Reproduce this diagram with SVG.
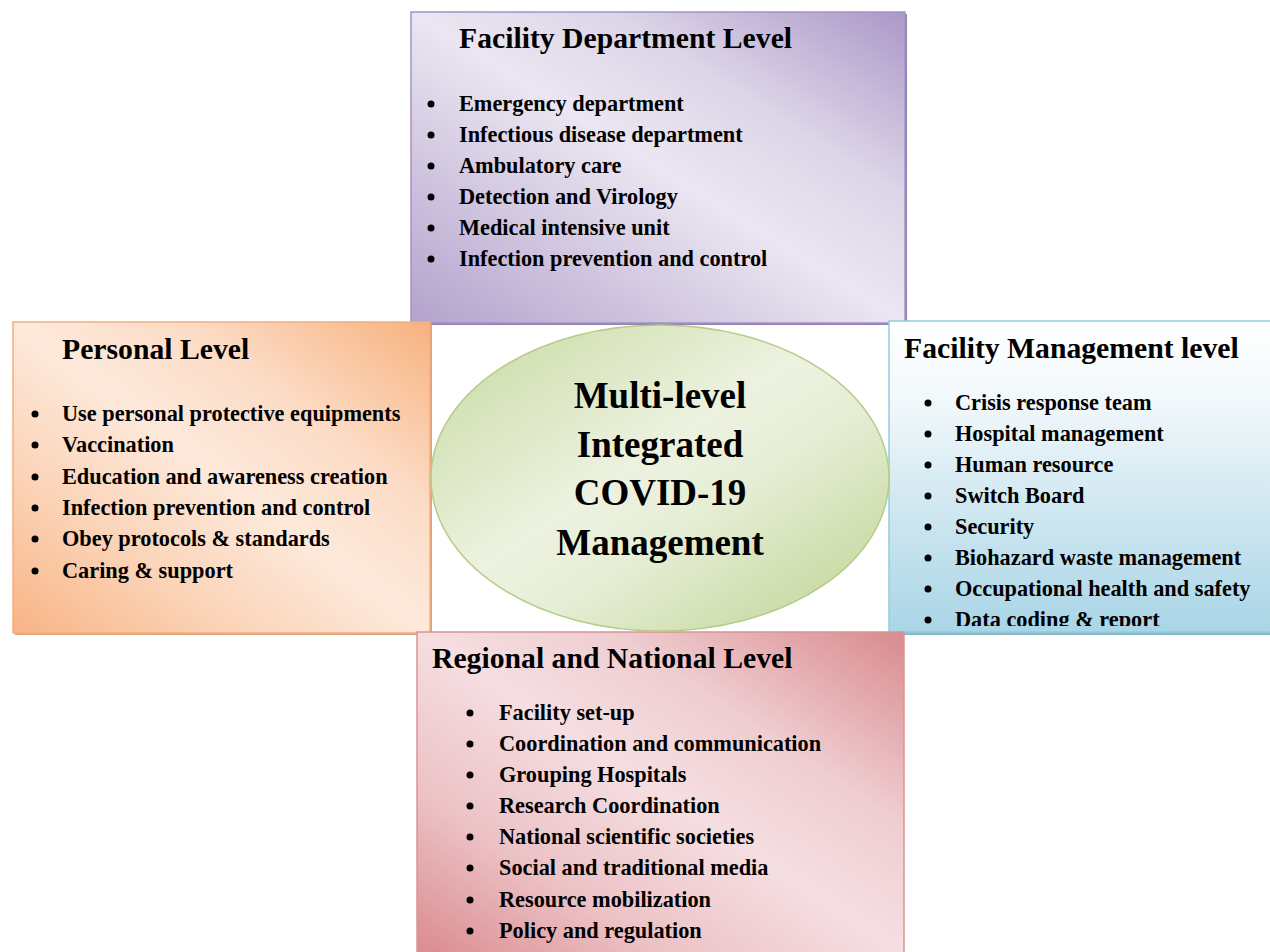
<svg xmlns="http://www.w3.org/2000/svg" width="1270" height="952" viewBox="0 0 1270 952">
<defs>
<linearGradient id="gPurple" x1="0" y1="1" x2="1" y2="0">
<stop offset="0" stop-color="#b3a2cc"/>
<stop offset="0.2" stop-color="#c9bddb"/>
<stop offset="0.5" stop-color="#ebe6f1"/>
<stop offset="0.7" stop-color="#ddd5e8"/>
<stop offset="1" stop-color="#ab98c8"/>
</linearGradient>
<linearGradient id="gOrange" x1="0" y1="1" x2="1" y2="0">
<stop offset="0" stop-color="#f8b485"/>
<stop offset="0.25" stop-color="#fbd2b5"/>
<stop offset="0.5" stop-color="#fde9db"/>
<stop offset="0.7" stop-color="#fcdcc6"/>
<stop offset="1" stop-color="#f7b27f"/>
</linearGradient>
<linearGradient id="gBlue" x1="0" y1="0" x2="0" y2="1">
<stop offset="0" stop-color="#ffffff"/>
<stop offset="0.25" stop-color="#f2f8fb"/>
<stop offset="1" stop-color="#a9d5e6"/>
</linearGradient>
<linearGradient id="gPink" x1="0" y1="1" x2="1" y2="0">
<stop offset="0" stop-color="#da8b8f"/>
<stop offset="0.25" stop-color="#ecc1c5"/>
<stop offset="0.5" stop-color="#f5dee1"/>
<stop offset="0.7" stop-color="#efcdd1"/>
<stop offset="1" stop-color="#d98a8d"/>
</linearGradient>
<linearGradient id="gGreen" x1="0" y1="0" x2="1" y2="1">
<stop offset="0" stop-color="#c6d9a0"/>
<stop offset="0.45" stop-color="#edf2e0"/>
<stop offset="0.6" stop-color="#e6eed6"/>
<stop offset="1" stop-color="#bdd28f"/>
</linearGradient>
<clipPath id="clipRight"><rect x="889" y="321" width="381" height="305"/></clipPath>
<style>
text{font-family:"Liberation Serif","Times New Roman",serif;font-weight:bold;fill:#000}
.title{font-size:29.7px}
.item{font-size:22.3px}
.center{font-size:37px;text-anchor:middle}
.bul{fill:#000}
</style>
</defs>

<g id="connectors"></g>

<g id="node-facility-department">
<rect x="413" y="14" width="494" height="311" fill="#8f80ae"/>
<rect x="411" y="12" width="494" height="311" fill="url(#gPurple)" stroke="#a294c3" stroke-width="1.5"/>
<text class="title" x="459" y="48">Facility Department Level</text>
<g class="bullets">
<circle class="bul" cx="431" cy="104" r="3.5"/>
<circle class="bul" cx="431" cy="135" r="3.5"/>
<circle class="bul" cx="431" cy="166" r="3.5"/>
<circle class="bul" cx="431" cy="197" r="3.5"/>
<circle class="bul" cx="431" cy="228" r="3.5"/>
<circle class="bul" cx="431" cy="259" r="3.5"/>
</g>
<text class="item" x="459" y="111">Emergency department</text>
<text class="item" x="459" y="142">Infectious disease department</text>
<text class="item" x="459" y="173">Ambulatory care</text>
<text class="item" x="459" y="204">Detection and Virology</text>
<text class="item" x="459" y="235">Medical intensive unit</text>
<text class="item" x="459" y="266">Infection prevention and control</text>
</g>

<g id="node-personal">
<rect x="15" y="324" width="417" height="311" fill="#dca27c"/>
<rect x="13" y="322" width="417" height="311" fill="url(#gOrange)" stroke="#f2ae80" stroke-width="1.5"/>
<text class="title" x="62" y="359">Personal Level</text>
<circle class="bul" cx="35" cy="414" r="3.5"/>
<circle class="bul" cx="35" cy="445" r="3.5"/>
<circle class="bul" cx="35" cy="477" r="3.5"/>
<circle class="bul" cx="35" cy="508" r="3.5"/>
<circle class="bul" cx="35" cy="539" r="3.5"/>
<circle class="bul" cx="35" cy="571" r="3.5"/>
<text class="item" x="62" y="421">Use personal protective equipments</text>
<text class="item" x="62" y="452">Vaccination</text>
<text class="item" x="62" y="484">Education and awareness creation</text>
<text class="item" x="62" y="515">Infection prevention and control</text>
<text class="item" x="62" y="546">Obey protocols &amp; standards</text>
<text class="item" x="62" y="578">Caring &amp; support</text>
</g>

<g id="node-facility-management">
<rect x="891" y="323" width="381" height="312" fill="#8cb8c8"/>
<rect x="889" y="321" width="383" height="311" fill="url(#gBlue)" stroke="#93cddd" stroke-width="1.5"/>
<g clip-path="url(#clipRight)">
<text class="title" x="904" y="358">Facility Management level</text>
<circle class="bul" cx="928" cy="403" r="3.5"/>
<circle class="bul" cx="928" cy="434" r="3.5"/>
<circle class="bul" cx="928" cy="465" r="3.5"/>
<circle class="bul" cx="928" cy="496" r="3.5"/>
<circle class="bul" cx="928" cy="527" r="3.5"/>
<circle class="bul" cx="928" cy="558" r="3.5"/>
<circle class="bul" cx="928" cy="589" r="3.5"/>
<circle class="bul" cx="928" cy="620" r="3.5"/>
<text class="item" x="955" y="410">Crisis response team</text>
<text class="item" x="955" y="441">Hospital management</text>
<text class="item" x="955" y="472">Human resource</text>
<text class="item" x="955" y="503">Switch Board</text>
<text class="item" x="955" y="534">Security</text>
<text class="item" x="955" y="565">Biohazard waste management</text>
<text class="item" x="955" y="596">Occupational health and safety</text>
<text class="item" x="955" y="627">Data coding &amp; report</text>
</g>
</g>

<g id="node-regional-national">
<rect x="417" y="632" width="487" height="322" fill="url(#gPink)" stroke="#d99594" stroke-width="1.5"/>
<text class="title" x="432" y="668">Regional and National Level</text>
<circle class="bul" cx="470" cy="713" r="3.5"/>
<circle class="bul" cx="470" cy="744" r="3.5"/>
<circle class="bul" cx="470" cy="775" r="3.5"/>
<circle class="bul" cx="470" cy="806" r="3.5"/>
<circle class="bul" cx="470" cy="837" r="3.5"/>
<circle class="bul" cx="470" cy="868" r="3.5"/>
<circle class="bul" cx="470" cy="900" r="3.5"/>
<circle class="bul" cx="470" cy="931" r="3.5"/>
<text class="item" x="499" y="720">Facility set-up</text>
<text class="item" x="499" y="751">Coordination and communication</text>
<text class="item" x="499" y="782">Grouping Hospitals</text>
<text class="item" x="499" y="813">Research Coordination</text>
<text class="item" x="499" y="844">National scientific societies</text>
<text class="item" x="499" y="875">Social and traditional media</text>
<text class="item" x="499" y="907">Resource mobilization</text>
<text class="item" x="499" y="938">Policy and regulation</text>
</g>

<g id="node-center">
<ellipse cx="660" cy="478" rx="229" ry="153" fill="url(#gGreen)" stroke="#b5cc88" stroke-width="1.5"/>
<text class="center" x="660" y="408">Multi-level</text>
<text class="center" x="660" y="457">Integrated</text>
<text class="center" x="660" y="505">COVID-19</text>
<text class="center" x="660" y="555">Management</text>
</g>
</svg>
